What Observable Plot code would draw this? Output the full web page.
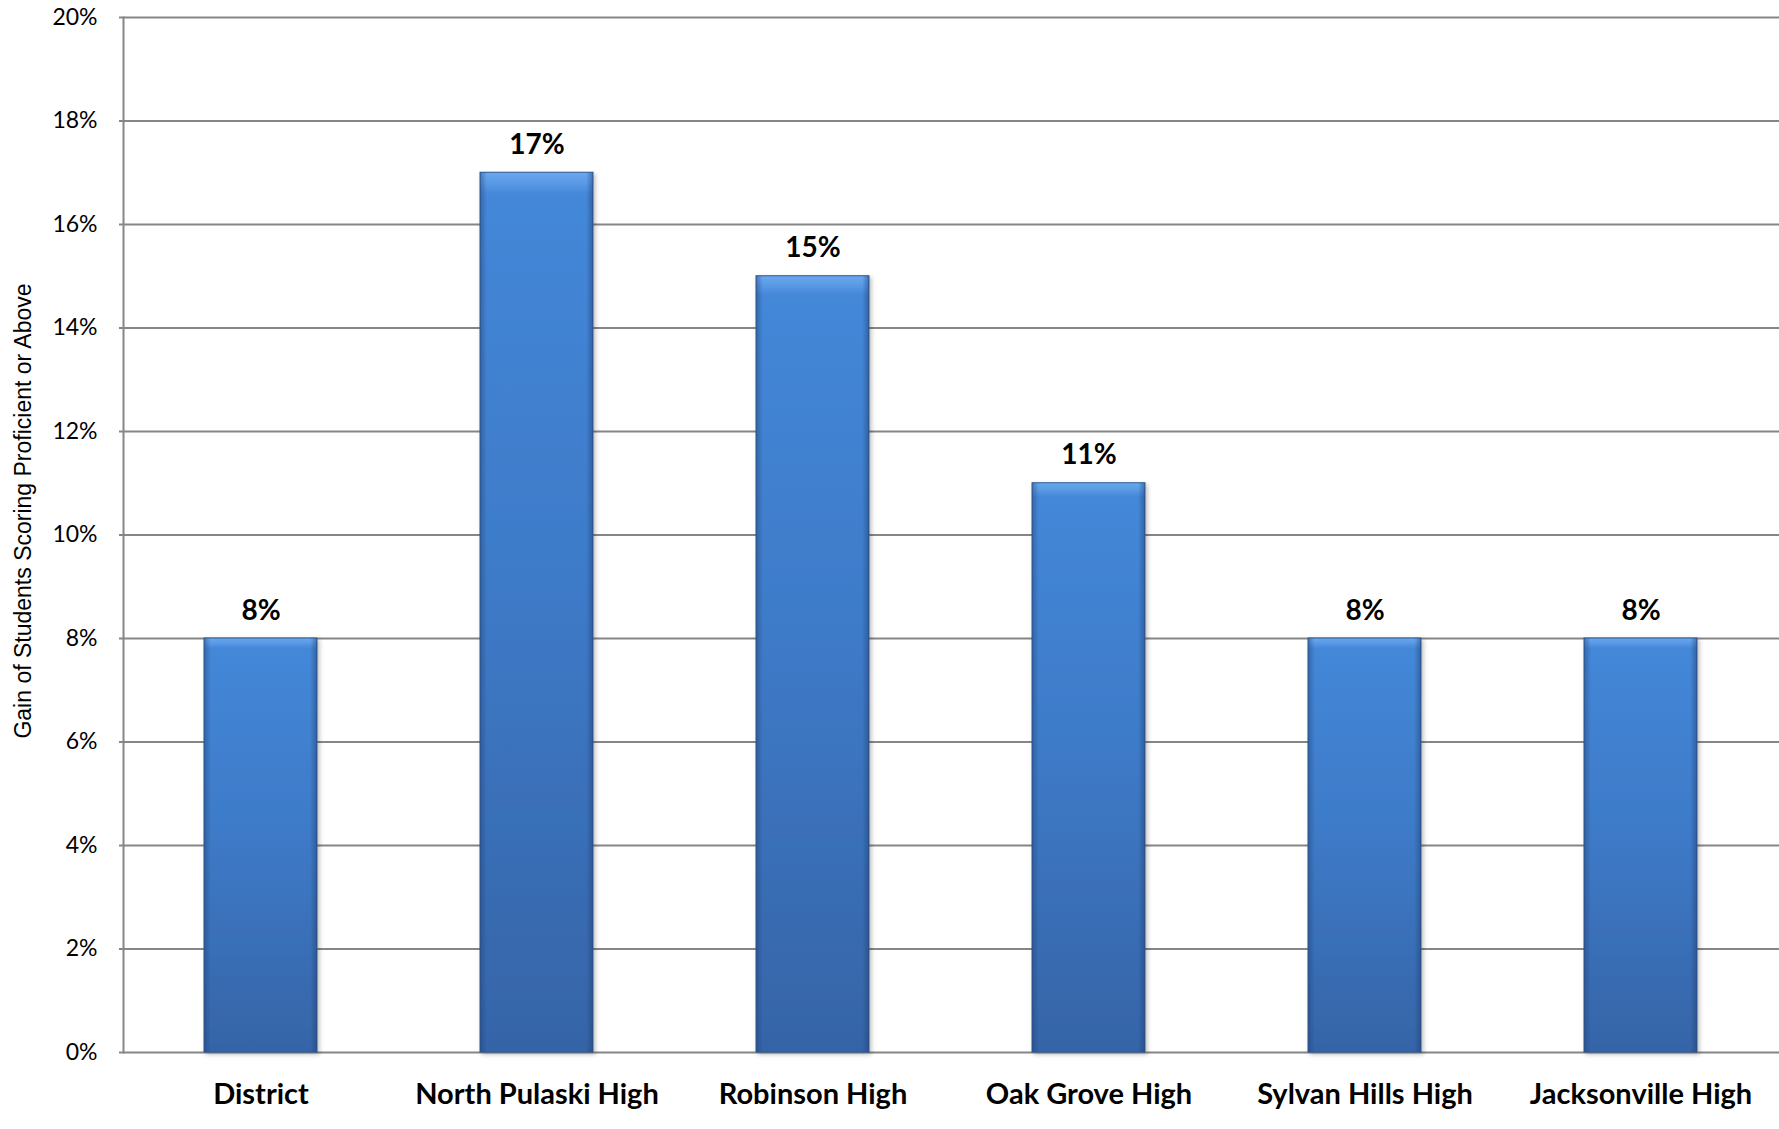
<!DOCTYPE html>
<html>
<head>
<meta charset="utf-8">
<script src="https://cdn.jsdelivr.net/npm/d3@7"></script>
<script src="https://cdn.jsdelivr.net/npm/@observablehq/plot@0.6"></script>
<style>
  html, body { margin: 0; padding: 0; background: #fff; }
  #chart svg { display: block; }
</style>
</head>
<body>
<div id="chart"></div>
<script>
const categories = ["District", "North Pulaski High", "Robinson High", "Oak Grove High", "Sylvan Hills High", "Jacksonville High"];
const gains = [0.08, 0.17, 0.15, 0.11, 0.08, 0.08];
const yTicks = [0, 0.02, 0.04, 0.06, 0.08, 0.10, 0.12, 0.14, 0.16, 0.18, 0.20];
const yTitle = "Gain of Students Scoring Proficient or Above";

const data = categories.map((c, i) => ({category: c, value: gains[i]}));

const defs = () => {
  const d = d3.create("svg:defs");
  const g = d.append("linearGradient").attr("id", "barGrad").attr("x1", 0).attr("y1", 0).attr("x2", 0).attr("y2", 1);
  g.append("stop").attr("offset", "0%").attr("stop-color", "#6aa8ee");
  g.append("stop").attr("offset", "1.2%").attr("stop-color", "#5a9ae6");
  g.append("stop").attr("offset", "2.5%").attr("stop-color", "#4487d8");
  g.append("stop").attr("offset", "50%").attr("stop-color", "#3d79c6");
  g.append("stop").attr("offset", "100%").attr("stop-color", "#3664a7");
  const e = d.append("linearGradient").attr("id", "edgeGrad").attr("x1", 0).attr("y1", 0).attr("x2", 1).attr("y2", 0);
  e.append("stop").attr("offset", "0%").attr("stop-color", "#1f3f70").attr("stop-opacity", 0.45);
  e.append("stop").attr("offset", "6%").attr("stop-color", "#1f3f70").attr("stop-opacity", 0.0);
  e.append("stop").attr("offset", "94%").attr("stop-color", "#1f3f70").attr("stop-opacity", 0.0);
  e.append("stop").attr("offset", "100%").attr("stop-color", "#1f3f70").attr("stop-opacity", 0.5);
  const f = d.append("filter").attr("id", "shadow").attr("x", "-10%").attr("y", "-10%").attr("width", "130%").attr("height", "130%");
  f.append("feDropShadow").attr("dx", 2).attr("dy", 2).attr("stdDeviation", 2).attr("flood-color", "#000").attr("flood-opacity", 0.25);
  return d.node();
};

const chart = Plot.plot({
  width: 1779,
  height: 1129,
  marginLeft: 123,
  marginRight: 0,
  marginTop: 17,
  marginBottom: 77,
  style: {background: "#fff", fontFamily: "Lato, sans-serif"},
  x: {domain: categories, paddingInner: 0.59, paddingOuter: 0.295, label: null},
  y: {domain: [0, 0.2], label: null},
  marks: [
    defs,
    Plot.gridY(yTicks, {stroke: "#868686", strokeOpacity: 1, strokeWidth: 2}),
    Plot.frame({anchor: "left", stroke: "#868686", strokeWidth: 2}),
    Plot.barY(data, {x: "category", y: "value", fill: "url(#barGrad)", stroke: "#2e5a96", strokeWidth: 1}),
    Plot.barY(data, {x: "category", y: "value", fill: "url(#edgeGrad)"}),
    Plot.text(data, {x: "category", y: "value", text: d => Math.round(d.value * 100) + "%", lineAnchor: "bottom", dy: -19, fontSize: 28, fontWeight: "bold", fill: "#000"}),
    Plot.axisY({ticks: yTicks, tickFormat: d => Math.round(d * 100) + "%", tickSize: 4, tickPadding: 22, fontSize: 23, stroke: "#868686", strokeWidth: 2, fill: "#000", label: null}),
    Plot.axisX({tickSize: 0, tickPadding: 31, fontSize: 29, fontWeight: "bold", fill: "#000", label: null}),
    Plot.text([yTitle], {frameAnchor: "left", textAnchor: "middle", rotate: -90, dx: -100, dy: -24, fontSize: 23, fontFamily: "Liberation Sans, Arial, sans-serif", fill: "#000"})
  ]
});

const barGroups = chart.querySelectorAll('g[aria-label="bar"]');
if (barGroups.length) barGroups[0].setAttribute("filter", "url(#shadow)");

document.getElementById("chart").appendChild(chart);
</script>
</body>
</html>
